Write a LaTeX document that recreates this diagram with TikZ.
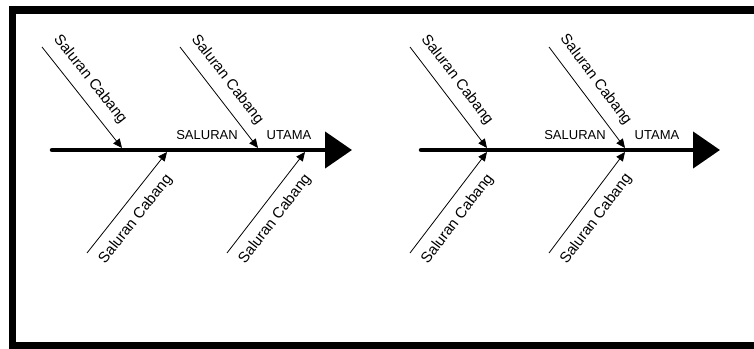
\documentclass[tikz,border=0pt]{standalone}
\usepackage{fontspec}
\setmainfont{Liberation Sans}
\usepackage{tikz}
\usetikzlibrary{arrows.meta}

\begin{document}
\begin{tikzpicture}[
  x=1pt, y=1pt,
  frame/.style={draw, line width=7.5pt},
  spine/.style={line width=4.5pt, line cap=round, -{Triangle[length=27pt, width=36pt]}},
  branch/.style={line width=0.8pt, -{Triangle[length=9pt, width=8pt]}},
  lbl/.style={font=\fontsize{15}{15}\selectfont, inner sep=2pt, sloped},
  mainlbl/.style={font=\fontsize{13}{13}\selectfont, inner sep=0pt}
]
  \useasboundingbox (0,0) rectangle (754,348);
  \clip (0,0) rectangle (754,348);

  % Frame (right side runs off the page)
  \draw[frame] (12.5,2) rectangle (780,338);

  % Left fishbone
  \coordinate (tailA) at (52,198);
  \coordinate (headA) at (352,198);
  \coordinate (upA1)  at (42,301);
  \coordinate (upA2)  at (180,301);
  \coordinate (loA1)  at (87,95);
  \coordinate (loA2)  at (227,95);
  \coordinate (jupA1) at (122,200);
  \coordinate (jupA2) at (258,200);
  \coordinate (jloA1) at (167,196);
  \coordinate (jloA2) at (305,196);

  \draw[spine] (tailA) -- (headA);
  \draw[branch] (upA1) -- node[lbl, above=8pt, pos=0.43] (lblA1) {Saluran Cabang} (jupA1);
  \draw[branch] (upA2) -- node[lbl, above=8pt, pos=0.43] (lblA2) {Saluran Cabang} (jupA2);
  \draw[branch] (loA1) -- node[lbl, below=8pt, pos=0.44] (lblA3) {Saluran Cabang} (jloA1);
  \draw[branch] (loA2) -- node[lbl, below=8pt, pos=0.44] (lblA4) {Saluran Cabang} (jloA2);

  \node[mainlbl] (salA) at (207,213) {SALURAN};
  \node[mainlbl] (utaA) at (289,213) {UTAMA};

  % Right fishbone
  \coordinate (tailB) at (421,198);
  \coordinate (headB) at (720,198);
  \coordinate (upB1)  at (410,301);
  \coordinate (upB2)  at (549,301);
  \coordinate (loB1)  at (410,95);
  \coordinate (loB2)  at (549,95);
  \coordinate (jupB1) at (487,200);
  \coordinate (jupB2) at (625,200);
  \coordinate (jloB1) at (487,196);
  \coordinate (jloB2) at (625,196);

  \draw[spine] (tailB) -- (headB);
  \draw[branch] (upB1) -- node[lbl, above=8pt, pos=0.43] (lblB1) {Saluran Cabang} (jupB1);
  \draw[branch] (upB2) -- node[lbl, above=8pt, pos=0.43] (lblB2) {Saluran Cabang} (jupB2);
  \draw[branch] (loB1) -- node[lbl, below=8pt, pos=0.44] (lblB3) {Saluran Cabang} (jloB1);
  \draw[branch] (loB2) -- node[lbl, below=8pt, pos=0.44] (lblB4) {Saluran Cabang} (jloB2);

  \node[mainlbl] (salB) at (575,213) {SALURAN};
  \node[mainlbl] (utaB) at (657,213) {UTAMA};

\end{tikzpicture}
\end{document}
